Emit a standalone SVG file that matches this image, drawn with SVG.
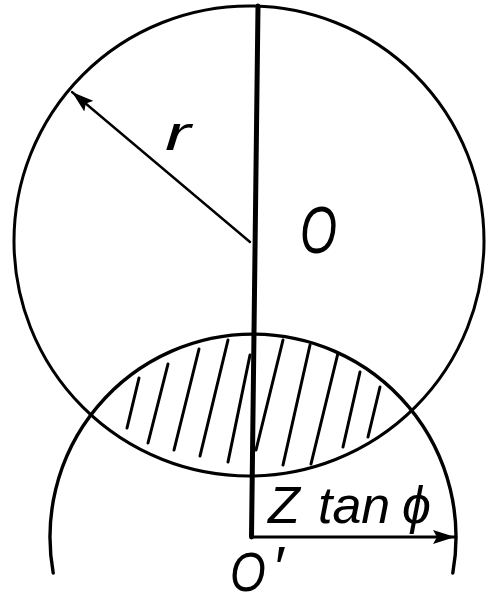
<svg xmlns="http://www.w3.org/2000/svg" width="488" height="603" viewBox="0 0 488 603">
<style>
.ln{fill:none;stroke:#000;stroke-linecap:round}
.lbl{font-family:"Liberation Sans","DejaVu Sans",sans-serif;font-style:italic;fill:#000}
</style>
<defs>
<marker id="ah" markerUnits="userSpaceOnUse" markerWidth="24" markerHeight="14" refX="22" refY="7" orient="auto">
<path d="M0,0 L22,7 L0,14 L4,7 z" fill="#000"/>
</marker>
</defs>
<rect width="488" height="603" fill="#fff"/>
<g id="circle-O">
<circle class="ln" cx="249" cy="241" r="235" stroke-width="3"/>
</g>
<g id="circle-O-prime">
<path class="ln" d="M53.2,573 A203,203 0 1 1 452.8,573" stroke-width="3.4"/>
</g>
<g id="hatching" class="ln" stroke-width="3">
<line x1="139" y1="378" x2="127" y2="428"/>
<line x1="168" y1="364" x2="148" y2="443"/>
<line x1="199" y1="349" x2="174" y2="450"/>
<line x1="228" y1="340" x2="200" y2="456"/>
<line x1="250" y1="355" x2="228" y2="462"/>
<line x1="283" y1="340" x2="256" y2="450"/>
<line x1="310" y1="345" x2="283" y2="465"/>
<line x1="338" y1="353" x2="311" y2="464"/>
<line x1="360" y1="372" x2="343" y2="447"/>
<line x1="380" y1="387" x2="368" y2="437"/>
</g>
<g id="connectors">
<line class="ln" x1="258" y1="6" x2="251.5" y2="537" stroke-width="5"/>
<line class="ln" x1="250" y1="242" x2="72" y2="92" stroke-width="2.4" marker-end="url(#ah)"/>
<line class="ln" x1="251.5" y1="537" x2="455" y2="537" stroke-width="3.2" marker-end="url(#ah)"/>
</g>
<g id="labels">
<text class="lbl" font-size="48" transform="translate(165,150) scale(1.6,1)">r</text>
<text class="lbl" font-size="66" transform="translate(300,253) scale(0.72,1)">O</text>
<text class="lbl" font-size="52" x="268" y="523">Z</text>
<text class="lbl" font-size="52" x="318" y="523">tan</text>
<text class="lbl" font-size="52" x="402" y="523">ϕ</text>
<text class="lbl" font-size="56" transform="translate(230,591) scale(0.82,1)">O</text>
<text class="lbl" font-size="60" x="272" y="588">′</text>
</g>
</svg>
